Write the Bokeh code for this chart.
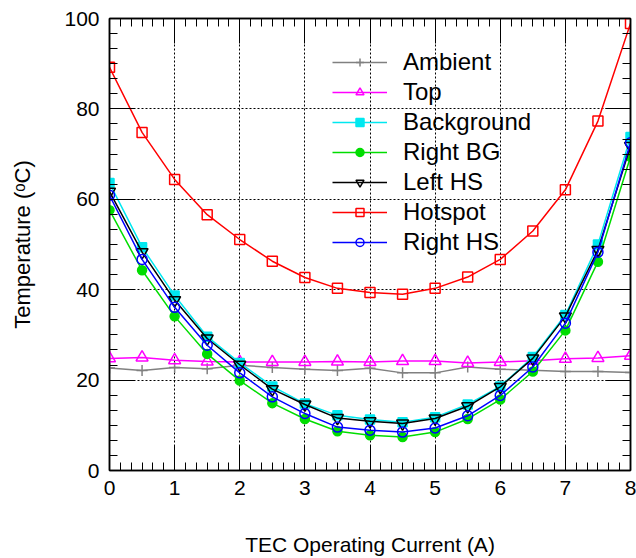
from bokeh.plotting import figure
from bokeh.models import (LinearAxis, SingleIntervalTicker, Range1d, Legend,
                          LegendItem, Grid, CustomJSTickFormatter)
from bokeh.embed import file_html
from bokeh.resources import INLINE

# ---- data ----
current = [0, 0.5, 1, 1.5, 2, 2.5, 3, 3.5, 4, 4.5, 5, 5.5, 6, 6.5, 7, 7.5, 8]
ambient = [22.7, 22.1, 22.8, 22.5, 23.3, 22.8, 22.4, 22.1, 22.6, 21.6, 21.6,
           22.9, 22.4, 22.2, 21.9, 21.9, 21.7]
top = [24.8, 25.0, 24.4, 24.1, 24.0, 24.0, 24.0, 24.1, 24.0, 24.2, 24.2,
       23.8, 24.0, 24.3, 24.7, 24.9, 25.4]
background = [63.6, 49.4, 38.7, 29.6, 23.8, 18.6, 14.8, 12.2, 11.3, 10.7, 11.8,
              14.6, 18.6, 25.1, 34.4, 50.0, 73.8]
right_bg = [57.6, 44.3, 34.1, 25.8, 19.9, 14.9, 11.4, 8.7, 7.8, 7.4, 8.5,
            11.4, 15.7, 21.9, 31.0, 46.2, 69.4]
left_hs = [61.7, 48.3, 37.7, 29.2, 23.4, 18.0, 14.6, 11.6, 10.9, 10.4, 11.5,
           14.2, 18.5, 24.8, 34.1, 48.8, 71.8]
hotspot = [89.2, 74.8, 64.4, 56.6, 51.1, 46.3, 42.7, 40.3, 39.4, 39.0, 40.3,
           42.8, 46.7, 53.0, 62.1, 77.3, 98.9]
right_hs = [60.9, 46.7, 36.1, 27.7, 21.6, 16.3, 12.6, 9.6, 8.9, 8.5, 9.4,
            12.1, 16.6, 22.9, 32.6, 48.3, 72.5]

series = [
    ("Ambient", ambient, "#808080", "cross", "#808080", 11),
    ("Top", top, "#ff00ff", "triangle", None, 12),
    ("Background", background, "#00e8f0", "square", "#00e8f0", 9),
    ("Right BG", right_bg, "#00dd00", "circle", "#00dd00", 9),
    ("Left HS", left_hs, "#000000", "inverted_triangle", None, 12),
    ("Hotspot", hotspot, "#ff0000", "square", None, 10),
    ("Right HS", right_hs, "#0000ff", "circle", None, 10),
]

FONT = "Liberation Sans"

p = figure(width=636, height=558, output_backend="svg", toolbar_location=None,
           x_range=Range1d(0, 8), y_range=Range1d(0, 100),
           x_axis_type=None, y_axis_type=None,
           min_border_left=109, min_border_right=6, min_border_top=18,
           min_border_bottom=0)
p.outline_line_color = "black"
p.outline_line_width = 1.5
p.background_fill_color = "white"
p.border_fill_color = "white"

xt = SingleIntervalTicker(interval=1, num_minor_ticks=6)
yt = SingleIntervalTicker(interval=20, num_minor_ticks=6)


def style_axis(ax, show_labels=True):
    ax.axis_line_color = "black"
    ax.axis_line_width = 1.5
    ax.major_tick_in = 25
    ax.major_tick_out = 0
    ax.minor_tick_in = 8
    ax.minor_tick_out = 0
    ax.major_tick_line_color = "black"
    ax.minor_tick_line_color = "black"
    ax.major_tick_line_width = 1
    ax.minor_tick_line_width = 1
    ax.major_label_text_font = FONT
    ax.major_label_text_color = "black"
    ax.axis_label_text_font = FONT
    ax.axis_label_text_font_style = "normal"
    ax.axis_label_text_color = "black"
    if show_labels:
        ax.major_label_text_font_size = "21px"
    else:
        ax.formatter = CustomJSTickFormatter(code="return '';")
        ax.major_label_text_font_size = "0px"
        ax.major_label_standoff = 0


xb = LinearAxis(ticker=xt, axis_label="TEC Operating Current (A)")
style_axis(xb)
xb.major_label_standoff = 10
xb.axis_label_text_font_size = "21px"
xb.axis_label_standoff = 35
p.add_layout(xb, "below")

yl = LinearAxis(ticker=yt, axis_label="Temperature (ᵒC)")
style_axis(yl)
yl.major_label_standoff = 10
yl.axis_label_text_font_size = "22px"
yl.axis_label_standoff = 26
p.add_layout(yl, "left")

xa = LinearAxis(ticker=xt)
style_axis(xa, show_labels=False)
p.add_layout(xa, "above")

yr = LinearAxis(ticker=yt)
style_axis(yr, show_labels=False)
p.add_layout(yr, "right")

p.add_layout(Grid(dimension=0, ticker=xt, grid_line_color="black",
                  grid_line_dash="2 2", grid_line_width=1))
p.add_layout(Grid(dimension=1, ticker=yt, grid_line_color="black",
                  grid_line_dash="2 2", grid_line_width=1))

items = []
for name, vals, color, marker, fill, size in series:
    ln = p.line(current, vals, line_color=color, line_width=1.5)
    sc = p.scatter(current, vals, marker=marker, size=size, line_color=color,
                   line_width=1.5, fill_color=fill)
    items.append(LegendItem(label=name, renderers=[ln, sc]))

legend = Legend(items=items, location=(223, 213))
legend.label_text_font = FONT
legend.label_text_font_size = "24px"
legend.label_text_color = "black"
legend.glyph_width = 55
legend.glyph_height = 20
legend.label_height = 30
legend.label_standoff = 16
legend.spacing = 0
legend.padding = 0
legend.margin = 0
legend.border_line_color = None
legend.background_fill_alpha = 0
p.add_layout(legend, "center")

open("out.html", "w").write(file_html(p, INLINE))
